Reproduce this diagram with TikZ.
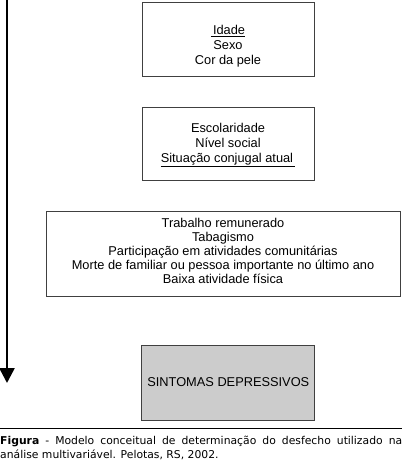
\documentclass[tikz,border=0pt]{standalone}
\usepackage{fontspec}
\setmainfont{Liberation Sans}
\newfontfamily\capfont{DejaVu Sans}
\usetikzlibrary{arrows.meta}

\begin{document}
\begin{tikzpicture}[x=1pt,y=-1pt,
  varbox/.style={draw=black!75, line width=.8pt, inner sep=0},
  vartext/.style={align=center, font=\fontsize{12.8}{15}\selectfont, inner sep=0}]
\useasboundingbox (0,0) rectangle (402,462);
% blocos do modelo
\node[varbox, minimum width=172, minimum height=74] (idade) at (228,39) {};
\node[vartext] (idadetxt) at (228,46.5) {\underline{\,Idade}\\ Sexo\\ Cor da pele};
\node[varbox, minimum width=172, minimum height=73] (escol) at (228,143.5) {};
\node[vartext] (escoltxt) at (228,145) {Escolaridade\\ N\'ivel social\\ \underline{Situação conjugal atual\,}};
\node[varbox, minimum width=354, minimum height=85] (trab) at (223,253.5) {};
\node[vartext, font=\fontsize{12.8}{14.2}\selectfont] (trabtxt) at (223,251) {Trabalho remunerado\\ Tabagismo\\ Participação em atividades comunitárias\\ Morte de familiar ou pessoa importante no último ano\\ Baixa atividade física};
\node[varbox, fill=black!20, minimum width=173, minimum height=75, vartext] (sint) at (228.3,382.5) {SINTOMAS DEPRESSIVOS};
% seta
\coordinate (top) at (7,0);
\coordinate (tip) at (7,383);
\draw[line width=2.6pt, -{Triangle[width=15pt,length=15pt]}] (top) -- (tip);
% legenda
\draw[line width=.6pt] (0,428) -- (402,428);
\node[anchor=north west, inner sep=0, text width=402pt, align=justify, font=\capfont\fontsize{10.8}{14}\selectfont] (legenda) at (0,436)
  {\textbf{Figura} - Modelo conceitual de determinação do desfecho utilizado na análise multivariável. Pelotas, RS, 2002.};
\end{tikzpicture}
\end{document}
